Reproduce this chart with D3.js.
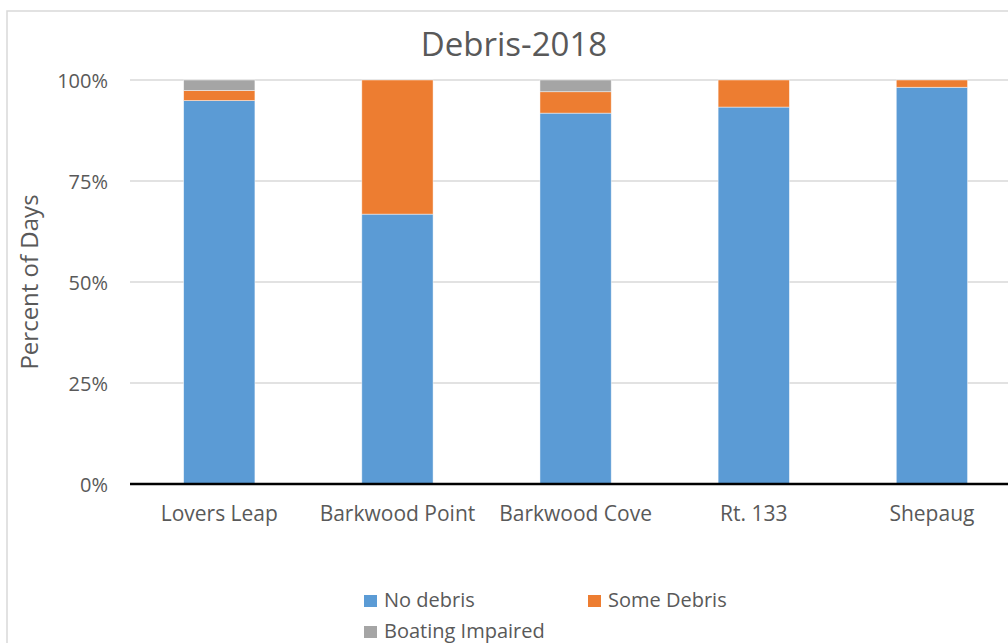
<!DOCTYPE html>
<html>
<head>
<meta charset="utf-8">
<script src="https://cdnjs.cloudflare.com/ajax/libs/d3/7.8.5/d3.min.js"></script>
<style>
  body { margin: 0; background: #fff; }
  svg { display: block; font-family: "Open Sans", sans-serif; }
</style>
</head>
<body>
<script>
var categories = ["Lovers Leap", "Barkwood Point", "Barkwood Cove", "Rt. 133", "Shepaug"];
var series_names = ["No debris", "Some Debris", "Boating Impaired"];
var no_debris = [0.949, 0.668, 0.918, 0.933, 0.982];
var some_debris = [0.025, 0.332, 0.053, 0.067, 0.018];
var boating_impaired = [0.026, 0, 0.029, 0, 0];
var y_ticks = [0, 0.25, 0.5, 0.75, 1];
var colors = ["#5B9BD5", "#ED7D31", "#A5A5A5"];

var w = 1008;
var h = 643;
var text_color = "#595959";

// rows for the stack
var rows = categories.map(function(c, i) {
  return { cat: c, "No debris": no_debris[i], "Some Debris": some_debris[i], "Boating Impaired": boating_impaired[i] };
});
var stacked = d3.stack().keys(series_names)(rows);

var svg = d3.select("body").append("svg").attr("width", w).attr("height", h);

// chart border (runs off the right and bottom edge)
svg.append("rect").attr("x", 7).attr("y", 11).attr("width", 1030).attr("height", 660)
  .attr("fill", "#fff").attr("stroke", "#d9d9d9").attr("stroke-width", 1.5);

var x = d3.scaleBand().domain(categories).range([130.2, 1021]).paddingInner(0.6).paddingOuter(0.3);
var y = d3.scaleLinear().domain([0, 1]).range([484, 80]);

// gridlines
svg.selectAll("line.grid").data(y_ticks.slice(1)).enter()
  .append("line")
  .attr("class", "grid")
  .attr("x1", 130).attr("x2", 1021)
  .attr("y1", function(d) { return y(d); })
  .attr("y2", function(d) { return y(d); })
  .attr("stroke", "#d9d9d9").attr("stroke-width", 1.5);

// y axis labels
var yAxis = d3.axisLeft(y).tickValues(y_ticks).tickFormat(d3.format(".0%")).tickSize(0).tickPadding(0);
var yg = svg.append("g").attr("transform", "translate(108,0)").call(yAxis);
yg.select(".domain").remove();
yg.selectAll("text").attr("fill", text_color).style("font-size", "20px")
  .attr("font-family", "Open Sans").attr("dy", "0.35em");

// bars
svg.selectAll("g.series").data(stacked).enter()
  .append("g")
  .attr("class", "series")
  .attr("fill", function(d, i) { return colors[i]; })
  .selectAll("rect").data(function(d) { return d; }).enter()
  .append("rect")
  .attr("x", function(d) { return x(d.data.cat); })
  .attr("width", x.bandwidth())
  .attr("y", function(d) { return y(d[1]); })
  .attr("height", function(d) { return y(d[0]) - y(d[1]); })
  .attr("stroke", "#fff").attr("stroke-opacity", 0.6).attr("stroke-width", 0.75);

// x axis
var xAxis = d3.axisBottom(x).tickSize(0).tickPadding(0);
var xg = svg.append("g").attr("transform", "translate(0,484)").call(xAxis);
xg.select(".domain").attr("stroke", "#000").attr("stroke-width", 2.5)
  .attr("d", "M130,0H1021");
xg.selectAll("text").attr("fill", text_color).style("font-size", "21px")
  .attr("font-family", "Open Sans").attr("y", 37).attr("dy", 0);

// title
svg.append("text").attr("x", 514).attr("y", 56).attr("text-anchor", "middle")
  .attr("fill", text_color).style("font-size", "33px").text("Debris-2018");

// y axis title
svg.append("text").attr("transform", "translate(38,282) rotate(-90)")
  .attr("text-anchor", "middle").attr("fill", text_color).style("font-size", "24px")
  .text("Percent of Days");

// legend
var legend_pos = [[364, 607], [588, 607], [364, 638]];
var legend = svg.selectAll("g.legend").data(series_names).enter()
  .append("g").attr("class", "legend")
  .attr("transform", function(d, i) { return "translate(" + legend_pos[i][0] + "," + legend_pos[i][1] + ")"; });
legend.append("rect").attr("x", 0).attr("y", -12).attr("width", 13).attr("height", 12)
  .attr("fill", function(d, i) { return colors[i]; });
legend.append("text").attr("x", 20).attr("y", 0).attr("fill", text_color)
  .style("font-size", "20px").text(function(d) { return d; });
</script>
</body>
</html>
